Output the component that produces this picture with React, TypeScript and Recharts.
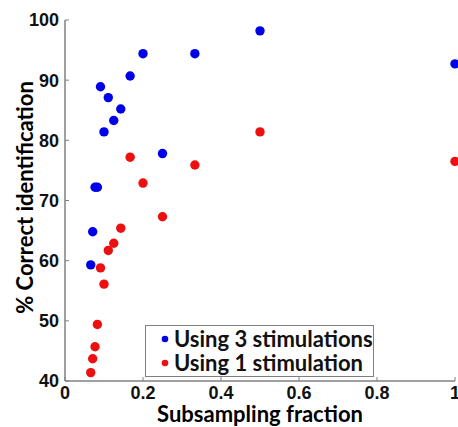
import React from 'react';
import { ScatterChart, Scatter, XAxis, YAxis, Legend } from 'recharts';

// Subsampling fraction (x) for each trial
const subsamplingFractions = [0.066, 0.071, 0.077, 0.083, 0.091, 0.1, 0.111, 0.125, 0.143, 0.167, 0.2, 0.25, 0.333, 0.5, 1];
// % correct identification, using 3 stimulations
const correctThreeStim = [59.3, 64.8, 72.2, 72.2, 88.9, 81.4, 87.1, 83.3, 85.2, 90.7, 94.4, 77.8, 94.4, 98.2, 92.7];
// % correct identification, using 1 stimulation
const correctOneStim = [41.4, 43.7, 45.7, 49.4, 58.8, 56.1, 61.7, 62.9, 65.4, 77.2, 72.9, 67.3, 75.9, 81.4, 76.5];

const seriesNames = ['Using 3 stimulations', 'Using 1 stimulation'];
const xTicks = [0, 0.2, 0.4, 0.6, 0.8, 1];
const yTicks = [40, 50, 60, 70, 80, 90, 100];
const xLabel = 'Subsampling fraction';
const yLabel = '% Correct identification';

const BLUE = '#0000e8';
const RED = '#ec1010';
const AXIS = '#808080';

const threeData = subsamplingFractions.map((x, i) => ({ x, y: correctThreeStim[i] }));
const oneData = subsamplingFractions.map((x, i) => ({ x, y: correctOneStim[i] }));

const makeDot = (color: string) => (props: any) =>
  props.cx == null ? <g /> : <circle cx={props.cx} cy={props.cy} r={4.7} fill={color} />;

const tickStyle = {
  fontFamily: '"Liberation Sans", Arial, sans-serif',
  fontWeight: 700,
  fontSize: 18,
  fill: '#111',
};

const LegendBox = (props: any) => {
  const payload = [...(props.payload || [])].sort(
    (a: any, b: any) => seriesNames.indexOf(a.value) - seriesNames.indexOf(b.value)
  );
  return (
    <div
      style={{
        boxSizing: 'border-box',
        width: 229,
        height: 52,
        border: `1.5px solid ${AXIS}`,
        background: '#fff',
        paddingTop: 1,
        fontFamily: 'Lato, sans-serif',
        fontWeight: 700,
        fontSize: 22,
        color: '#111',
      }}
    >
      {payload.map((p: any, i: number) => (
        <div key={i} style={{ display: 'flex', alignItems: 'center', height: 24 }}>
          <svg width={28} height={24} style={{ flex: 'none' }}>
            <circle cx={19} cy={12} r={3.3} fill={p.color} />
          </svg>
          <span style={{ whiteSpace: 'nowrap', lineHeight: '24px' }}>{p.value}</span>
        </div>
      ))}
    </div>
  );
};

export default function App() {
  return (
    <div style={{ position: 'absolute', left: 0, top: 0, width: 458, height: 427, overflow: 'hidden', background: '#fff' }}>
      <ScatterChart width={520} height={427} margin={{ top: 20, right: 65, left: 0, bottom: 0 }}>
        <XAxis
          type="number"
          dataKey="x"
          domain={[0, 1]}
          ticks={xTicks}
          height={46}
          axisLine={{ stroke: AXIS, strokeWidth: 1.5 }}
          tickLine={{ stroke: AXIS }}
          tickSize={-4}
          tickMargin={9.5}
          tick={tickStyle}
          label={{
            value: xLabel,
            position: 'insideBottom',
            offset: 5,
            style: { fontFamily: 'Lato, sans-serif', fontWeight: 700, fontSize: 22, fill: '#000' },
          }}
        />
        <YAxis
          type="number"
          dataKey="y"
          domain={[40, 100]}
          ticks={yTicks}
          width={65}
          axisLine={{ stroke: AXIS, strokeWidth: 1.5 }}
          tickLine={{ stroke: AXIS }}
          tickSize={-4}
          tickMargin={10}
          tick={tickStyle}
          label={{
            value: yLabel,
            angle: -90,
            position: 'center',
            dx: -7.5,
            dy: -3,
            style: { fontFamily: 'Lato, sans-serif', fontWeight: 700, fontSize: 22, fill: '#000', textAnchor: 'middle' },
          }}
        />
        <Legend
          layout="vertical"
          verticalAlign="middle"
          align="center"
          content={<LegendBox />}
          wrapperStyle={{ left: 145, top: 325, width: 229, height: 52 }}
        />
        <Scatter name={seriesNames[0]} data={threeData} fill={BLUE} shape={makeDot(BLUE)} isAnimationActive={false} />
        <Scatter name={seriesNames[1]} data={oneData} fill={RED} shape={makeDot(RED)} isAnimationActive={false} />
      </ScatterChart>
    </div>
  );
}
